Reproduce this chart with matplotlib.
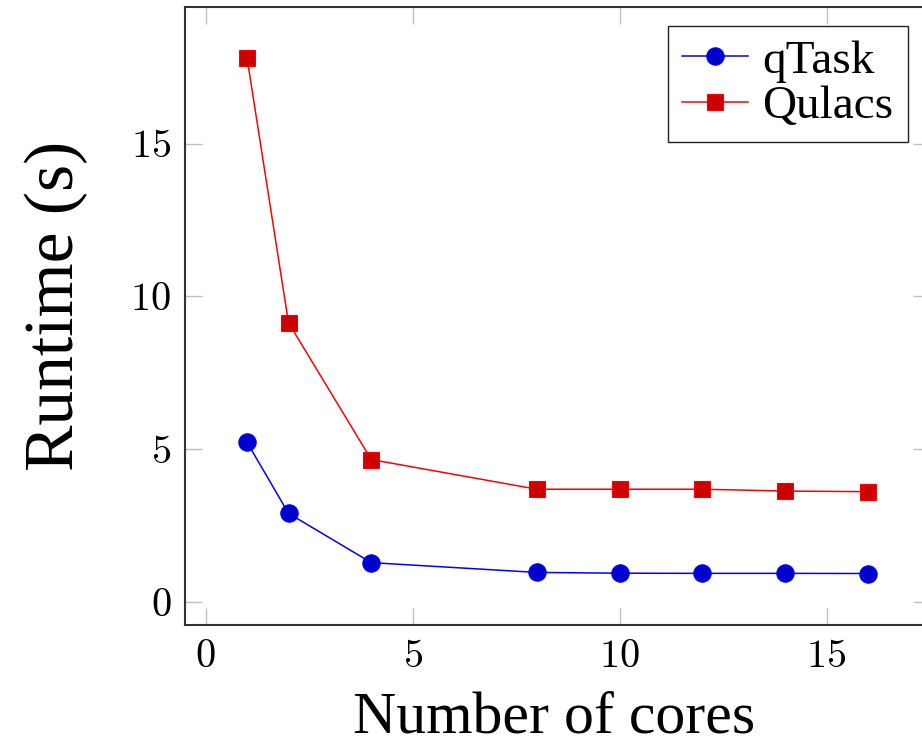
import matplotlib
matplotlib.use("Agg")
import matplotlib.pyplot as plt

# runtime vs number of cores
cores = [1, 2, 4, 8, 10, 12, 14, 16]
qtask = [5.23, 2.91, 1.30, 0.98, 0.955, 0.95, 0.95, 0.945]
qulacs = [17.78, 9.14, 4.67, 3.70, 3.70, 3.70, 3.64, 3.62]

xticks = [0, 5, 10, 15]
yticks = [0, 5, 10, 15]

plt.rcParams['axes.formatter.use_mathtext'] = True

fig = plt.figure(figsize=(9.22, 7.45), dpi=100)
ax = fig.add_axes([0.2007, 0.161, 0.808, 0.8295])

ax.plot(cores, qtask, color='#0000ff', lw=1.1, marker='o', markersize=12.5,
        markerfacecolor='#0000cc', markeredgecolor='#0000ff', markeredgewidth=0.8,
        label='qTask')
ax.plot(cores, qulacs, color='#ff0000', lw=1.1, marker='s', markersize=11.5,
        markerfacecolor='#cc0000', markeredgecolor='#ff0000', markeredgewidth=0.8,
        label='Qulacs')

ax.set_xlim(-0.5, 17.5)
ax.set_ylim(-0.74, 19.46)
ax.set_xticks(xticks)
ax.set_yticks(yticks)

ax.tick_params(direction='in', length=12, width=1.0, color='#c0c0c0',
               top=True, right=True, pad=10, labelsize=29,
               labelfontfamily='cmr10')
for sp in ax.spines.values():
    sp.set_color('#333333')
    sp.set_linewidth(1.5)

ax.set_xlabel('Number of cores', family='Liberation Serif', fontsize=43)
ax.xaxis.set_label_coords(0.495, -0.108)
ax.set_ylabel('Runtime (s)', family='Liberation Serif', fontsize=50)
ax.yaxis.set_label_coords(-0.13, 0.517)

leg = ax.legend(loc='upper right', bbox_to_anchor=(0.97, 0.97), borderaxespad=0,
                prop={'family': 'Liberation Serif', 'size': 34},
                frameon=True, fancybox=False, framealpha=1, edgecolor='#222222',
                handlelength=1.4, handletextpad=0.3, labelspacing=0.05,
                borderpad=0.3)
leg.get_frame().set_linewidth(1.0)

fig.savefig('out.png', dpi=100)
